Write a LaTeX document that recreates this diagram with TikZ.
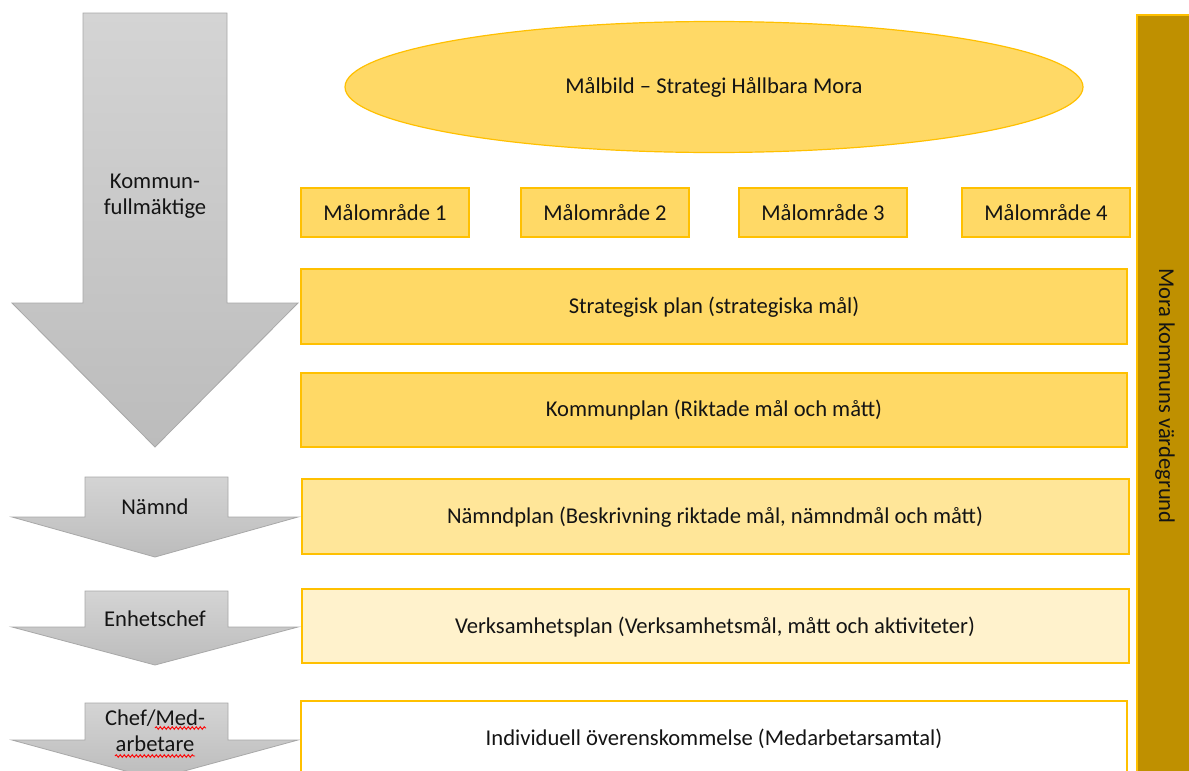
\documentclass[tikz,border=0pt]{standalone}
\usepackage{fontspec}
\setmainfont{Carlito}
\usetikzlibrary{shapes.geometric,decorations.pathmorphing}
\definecolor{gold}{HTML}{FFD966}
\definecolor{goldline}{HTML}{FFC000}
\definecolor{gold2}{HTML}{FFE699}
\definecolor{gold3}{HTML}{FFF2CC}
\definecolor{darkgold}{HTML}{BF9000}
\definecolor{greytop}{HTML}{D4D4D4}
\definecolor{greybot}{HTML}{BCBCBC}
\definecolor{greyline}{HTML}{A8A8A8}
\definecolor{txt}{HTML}{141414}
\tikzset{
  lbl/.style={font=\fontsize{22.6}{26}\selectfont, text=txt, align=center, inner sep=0pt},
  goalbox/.style={draw=goldline, line width=1.2pt, fill=gold},
  garrow/.style={top color=greytop, bottom color=greybot, draw=greyline, line width=0.8pt},
  squiggle/.style={draw=red, line width=0.9pt, decorate, decoration={snake, segment length=4pt, amplitude=1.3pt}}
}
\begin{document}
\begin{tikzpicture}[x=1pt,y=-1pt]
\useasboundingbox (0,0) rectangle (1189,771);
\clip (0,0) rectangle (1189,771);
\fill[white] (0,0) rectangle (1189,771);

% grey arrows
\shade[garrow] (83,13) -- (227,13) -- (227,303) -- (298,303) -- (155,447) -- (12,303) -- (83,303) -- cycle;
\shade[garrow] (85,477) -- (228,477) -- (228,517) -- (298,517) -- (155,557) -- (12,517) -- (85,517) -- cycle;
\shade[garrow] (85,591) -- (228,591) -- (228,627) -- (298,627) -- (155,665) -- (12,627) -- (85,627) -- cycle;
\shade[garrow] (85,703) -- (228,703) -- (228,740) -- (298,740) -- (155,779) -- (12,740) -- (85,740) -- cycle;

\node[lbl] (kf) at (155,196) {Kommun-\\fullmäktige};
\node[lbl] (nm) at (155,507) {Nämnd};
\node[lbl] (ec) at (155,619) {Enhetschef};
\node[lbl] (cm) at (155,731) {Chef/Med-\\arbetare};
\draw[squiggle] (155,728) -- (206,728);
\draw[squiggle] (115,756) -- (195,756);

% ellipse
\node[draw=goldline, line width=1.2pt, fill=gold, ellipse, minimum width=738pt, minimum height=131pt, inner sep=0pt] (mb) at (714,87) {};
\node[lbl] (mbt) at (714,87) {Målbild – Strategi Hållbara Mora};

% goal areas
\draw[goalbox] (301,188) rectangle (469,237);
\node[lbl] (m1) at (385,213) {Målområde 1};
\draw[goalbox] (521,188) rectangle (689,237);
\node[lbl] (m2) at (605,213) {Målområde 2};
\draw[goalbox] (739,188) rectangle (907,237);
\node[lbl] (m3) at (823,213) {Målområde 3};
\draw[goalbox] (962,188) rectangle (1130,237);
\node[lbl] (m4) at (1046,213) {Målområde 4};

% plans
\draw[goalbox] (301,269) rectangle (1127,344);
\node[lbl] (sp) at (714,307) {Strategisk plan (strategiska mål)};
\draw[goalbox] (301,373) rectangle (1127,447);
\node[lbl] (kp) at (714,410) {Kommunplan (Riktade mål och mått)};
\draw[goalbox, fill=gold2] (302,479) rectangle (1129,554);
\node[lbl] (np) at (715,517) {Nämndplan (Beskrivning riktade mål, nämndmål och mått)};
\draw[goalbox, fill=gold3] (302,589) rectangle (1129,663);
\node[lbl] (vp) at (715,627) {Verksamhetsplan (Verksamhetsmål, mått och aktiviteter)};
\draw[goalbox, fill=white] (301,701) rectangle (1127,790);
\node[lbl] (io) at (714,739) {Individuell överenskommelse (Medarbetarsamtal)};

% right bar
\draw[draw=goldline, line width=1.2pt, fill=darkgold] (1137,15) rectangle (1200,790);
\node[lbl, rotate=-90] (vg) at (1165,396) {Mora kommuns värdegrund};
\end{tikzpicture}
\end{document}
